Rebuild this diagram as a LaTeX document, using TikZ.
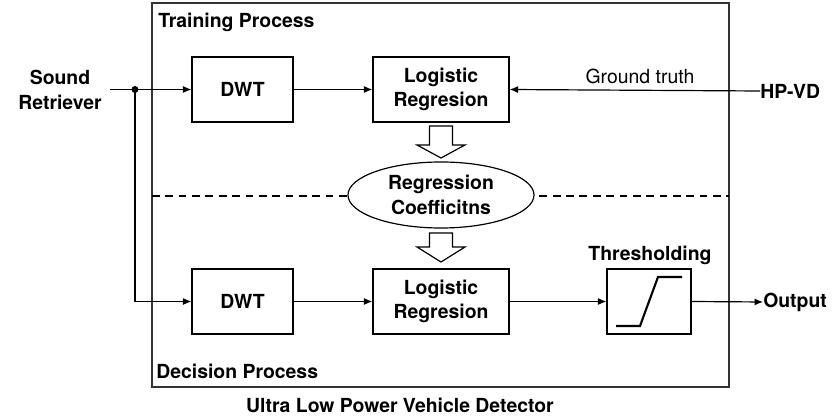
\documentclass[tikz,border=0pt]{standalone}
\usepackage{fontspec}
\setmainfont{TeX Gyre Heros}
\usetikzlibrary{arrows.meta,shapes.geometric}

\newcommand{\diagfont}{\fontsize{13.8}{17.5}\selectfont}

\tikzset{
  blk/.style={draw,line width=0.85pt,minimum height=1.625cm,align=center,font=\diagfont\bfseries,inner sep=0pt},
  lbl/.style={font=\diagfont\bfseries,inner sep=0pt,align=center},
  conn/.style={line width=0.85pt,-{Latex[length=6pt,width=5pt]}},
  bigarrow/.style={draw,line width=0.85pt,fill=white}
}

\begin{document}
\begin{tikzpicture}[x=0.025cm,y=-0.025cm,font=\diagfont]
\useasboundingbox (0,0) rectangle (838,418);

% outer frame and separation
\draw[line width=0.85pt,draw=black!80] (152,3) rectangle (729,387);
\draw[line width=0.85pt,dash pattern=on 5.5pt off 4pt] (152,196) -- (729,196);

\node[lbl,anchor=west] (train) at (158,22) {Training Process};
\node[lbl,anchor=west] (decis) at (156,371) {Decision Process};
\node[lbl] (title) at (400,405) {Ultra Low Power Vehicle Detector};

% training
\node[blk,minimum width=2.525cm] (dwtA) at (242.5,89.5) {DWT};
\node[blk,minimum width=3.4cm] (logA) at (441,89.5) {Logistic\\Regresion};

% decision
\node[blk,minimum width=2.525cm] (dwtB) at (242.5,301.5) {DWT};
\node[blk,minimum width=3.4cm] (logB) at (441,301.5) {Logistic\\Regresion};
\node[blk,minimum width=2.1cm] (thr) at (649,301.5) {};
\node[lbl] (thrlbl) at (650,255) {Thresholding};
\draw[line width=1.5pt] (616,326) -- (640,326) -- (658,277) -- (682,277);

% coefficients
\node[draw,ellipse,line width=0.85pt,minimum width=4.65cm,minimum height=1.65cm,inner sep=0pt,fill=white,
      font=\diagfont\bfseries,align=center] (coef) at (441,195) {Regression\\Coefficitns};

\draw[bigarrow] (429.5,126) -- (452.5,126) -- (452.5,145) -- (465,145) -- (441,158)
   -- (417,145) -- (429.5,145) -- cycle;
\draw[bigarrow] (429.5,233) -- (452.5,233) -- (452.5,247) -- (465,247) -- (441,262)
   -- (417,247) -- (429.5,247) -- cycle;

% inputs and outputs
\node[lbl] (sound) at (60,90) {Sound\\Retriever};
\node[lbl,anchor=west] (hpvd) at (760,91) {HP-VD};
\node[lbl,anchor=west] (out) at (763,302) {Output};
\node (gt) at (640,76) {Ground truth};

\coordinate (src) at (110,89.5);
\coordinate (dot) at (135,89.5);
\fill (dot) circle (3.5);

\draw[line width=0.85pt] (src) -- (dot);
\draw[conn] (dot) -- (dwtA.west);
\draw[conn] (dot) |- (dwtB.west);
\draw[conn] (dwtA) -- (logA);
\draw[conn] (hpvd.west) -- (logA.east);
\draw[conn] (dwtB) -- (logB);
\draw[conn] (logB) -- (thr);
\draw[conn] (thr.east) -- (out.west);

\end{tikzpicture}
\end{document}
